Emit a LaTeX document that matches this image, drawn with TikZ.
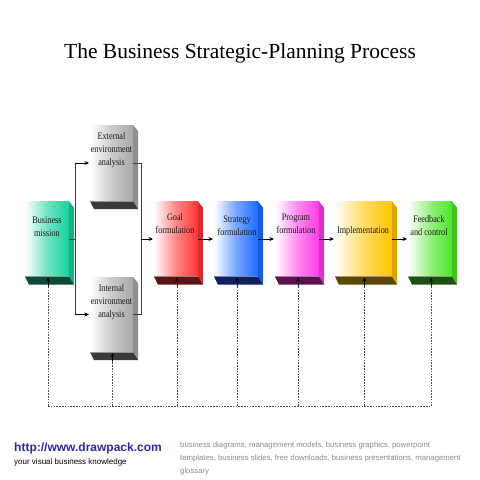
\documentclass[tikz,border=0pt]{standalone}
\usepackage{fontspec}
\setmainfont{Liberation Serif}
\newfontfamily\boxfont{Liberation Serif}[FakeStretch=0.82]
\newfontfamily\footfont{Liberation Sans}
\usetikzlibrary{calc,arrows.meta}
\definecolor{cBM}{HTML}{14D29C}
\definecolor{dBM}{HTML}{0D4A3A}
\definecolor{cGR}{HTML}{A8A8A8}
\definecolor{dGR}{HTML}{3A3A3A}
\definecolor{cGO}{HTML}{FF3535}
\definecolor{dGO}{HTML}{5B1515}
\definecolor{cST}{HTML}{1C6BFF}
\definecolor{dST}{HTML}{0F2060}
\definecolor{cPR}{HTML}{FF3CE6}
\definecolor{dPR}{HTML}{5C1050}
\definecolor{cIM}{HTML}{FFC400}
\definecolor{dIM}{HTML}{5A4800}
\definecolor{cFB}{HTML}{4EE52B}
\definecolor{dFB}{HTML}{1E5014}
\definecolor{urlblue}{HTML}{2B2B9B}
\definecolor{kwgray}{HTML}{8C8C8C}
\tikzset{
  face/.style={inner sep=0pt, outer sep=0pt, shading=axis},
  boxtext/.style={inner sep=0pt, align=center, text=black!90,
    font=\boxfont\fontsize{10}{13}\selectfont},
  conn/.style={draw=black!75, line width=0.8pt},
  arr/.style={draw=black, line width=0.8pt, -{Stealth[length=4.5pt,width=4pt]}, shorten >=1pt},
  dashline/.style={draw=black!70, line width=0.6pt, dash pattern=on 1.6pt off 1.2pt},
  uparr/.style={-{Stealth[length=4pt,width=3.5pt]}},
}
\newcommand\pbox[7]{%
  \node[face, minimum width=#4, minimum height=#5, left color=white, right color=#6, middle color=#6!60] (#1) at (#2,#3) {};
  \fill[#6!85!black] (#1.north east) -- ++(5,6) -- ($(#1.south east)+(5,8)$) -- (#1.south east) -- cycle;
  \fill[#7] (#1.south west) -- (#1.south east) -- ($(#1.south east)+(5,8)$) -- ($(#1.south west)+(4,8)$) -- cycle;
  \draw[#7!55!white, line width=0.7pt] (#1.south west) -- (#1.south east);
}
\begin{document}
\begin{tikzpicture}[x=1pt,y=-1pt]
\useasboundingbox (0,0) rectangle (480,480);
\fill[white] (0,0) rectangle (480,480);

\node[font=\fontsize{21.5}{25}\selectfont, inner sep=0pt] (title) at (240,53) {The Business Strategic-Planning Process};

\pbox{bm}{47}{239}{44}{75}{cBM}{dBM}
\pbox{ext}{111.5}{163}{43}{76}{cGR}{dGR}
\pbox{int}{111.5}{314.5}{43}{75}{cGR}{dGR}
\pbox{goal}{176}{239}{44}{75}{cGO}{dGO}
\pbox{strat}{236}{239}{44}{75}{cST}{dST}
\pbox{prog}{297}{239}{44}{75}{cPR}{dPR}
\pbox{impl}{363.5}{239}{57}{75}{cIM}{dIM}
\pbox{fb}{430}{239}{44}{75}{cFB}{dFB}

\node[boxtext] (bm-t) at (47,226.5) {Business\\mission};
\node[boxtext] (ext-t) at (111.5,150) {External\\environment\\analysis};
\node[boxtext] (int-t) at (111.5,302) {Internal\\environment\\analysis};
\node[boxtext] (goal-t) at (175,223.5) {Goal\\formulation};
\node[boxtext] (strat-t) at (237,225.5) {Strategy\\formulation};
\node[boxtext] (prog-t) at (296,223.5) {Program\\formulation};
\node[boxtext] (impl-t) at (363,231) {Implementation};
\node[boxtext] (fb-t) at (429,225.5) {Feedback\\and control};

% bracket from business mission to the two analyses
\coordinate (lj) at ($(bm.east)+(6,0)$);
\draw[conn] (bm.east) -- (lj);
\draw[conn] (lj |- ext.west) -- (lj |- int.west);
\draw[arr] (lj |- ext.west) -- (ext.west);
\draw[arr] (lj |- int.west) -- (int.west);
% bracket from the two analyses to goal formulation
\coordinate (rj) at ($(ext.east)+(8,0)$);
\draw[conn] (ext.east) -- (rj) -- (rj |- int.east) -- (int.east);
\draw[arr] (rj |- goal.west) -- (goal.west);
% main chain
\draw[arr] (goal.east) -- (strat.west);
\draw[arr] (strat.east) -- (prog.west);
\draw[arr] (prog.east) -- (impl.west);
\draw[arr] (impl.east) -- (fb.west);

% feedback dashed lines
\coordinate (floor) at (0,406);
\foreach \n in {bm,int,goal,strat,prog,impl,fb}{
  \coordinate (\n-b) at ($(\n.south)+(1,1)$);
  \draw[dashline] (\n-b |- floor) -- ($(\n-b)+(0,8)$);
  \draw[black, line width=0.7pt, uparr] ($(\n-b)+(0,8)$) -- (\n-b);
}
\draw[dashline] (bm-b |- floor) -- (fb-b |- floor);

% footer
\node[anchor=base west, inner sep=0pt, font=\footfont\bfseries\fontsize{12}{14}\selectfont, text=urlblue] (url) at (14,451) {http://www.drawpack.com};
\node[anchor=base west, inner sep=0pt, font=\footfont\fontsize{8}{10}\selectfont] (tag) at (14,464.5) {your visual business knowledge};
\node[anchor=north west, inner sep=0pt, align=left, text=kwgray, font=\footfont\fontsize{7.75}{13.3}\selectfont] (kw) at (180,441.5) {business diagrams, management models, business graphics, powerpoint\\templates, business slides, free downloads, business presentations, management\\glossary};
\end{tikzpicture}
\end{document}
